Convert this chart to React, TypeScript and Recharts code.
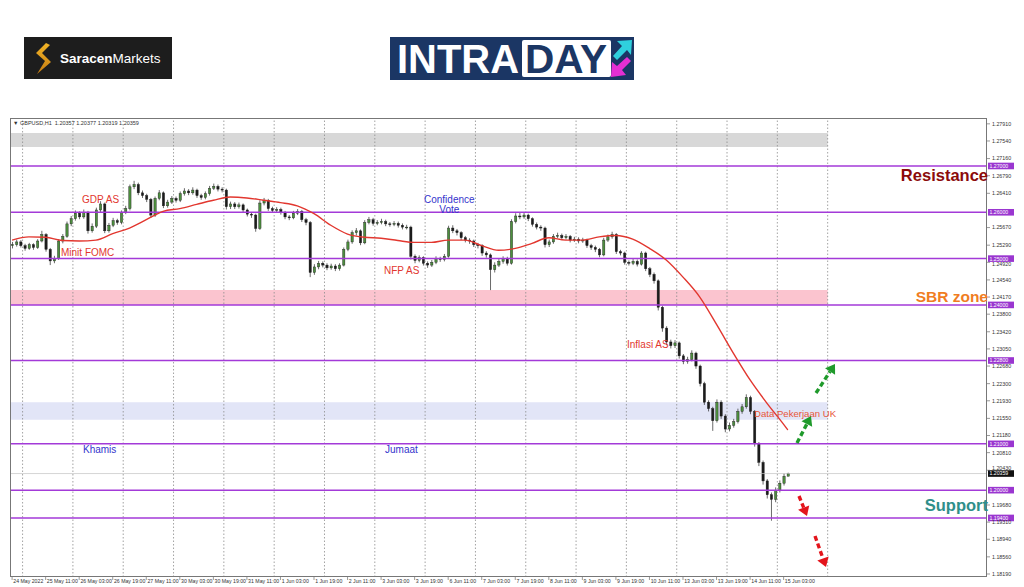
import React from 'react';
import { ComposedChart, Bar, Line, XAxis, YAxis, ReferenceLine, ReferenceArea } from 'recharts';

// GBPUSD, 2-hour candles from 24 May 19:00. Prices in pips above 1.20000.
// open of each candle = close of the previous one
const firstOpen = 528;
const closes = [
  530, 536, 528, 522, 530, 524, 538, 552, 520, 495, 500, 538,
  548, 575, 586, 598, 590, 600, 560, 570, 605, 618, 560, 572,
  582, 578, 600, 608, 655, 660, 642, 636, 628, 594, 630, 642,
  614, 622, 630, 626, 640, 646, 642, 648, 636, 632, 640, 652,
  656, 650, 648, 612, 618, 612, 616, 605, 596, 594, 565, 620,
  626, 608, 604, 606, 600, 590, 588, 598, 602, 584, 578, 470,
  482, 490, 486, 480, 484, 478, 486, 520, 536, 556, 560, 534,
  578, 584, 576, 578, 580, 575, 574, 576, 572, 568, 568, 505,
  496, 502, 490, 486, 492, 500, 498, 505, 566, 560, 556, 545,
  540, 538, 530, 528, 512, 508, 476, 486, 494, 500, 490, 580,
  592, 590, 594, 586, 574, 568, 566, 530, 536, 548, 550, 545,
  548, 540, 542, 538, 540, 528, 524, 520, 508, 540, 547, 552,
  515, 512, 492, 490, 494, 488, 512, 478, 466, 452, 395, 350,
  320, 312, 318, 290, 278, 282, 296, 268, 230, 190, 176, 150,
  190, 160, 132, 140, 148, 170, 180, 200, 170, 100, 60, 20,
  -10, -20, 0, 15, 30, 35.9,
];
const highs = [
  536, 541, 540, 532, 534, 533, 542, 560, 555, 523, 506, 542,
  553, 580, 592, 604, 602, 606, 603, 576, 610, 624, 621, 577,
  588, 586, 604, 614, 660, 668, 664, 647, 640, 631, 634, 648,
  645, 627, 635, 634, 645, 652, 650, 654, 651, 640, 645, 657,
  662, 660, 654, 651, 623, 622, 621, 619, 608, 600, 597, 626,
  631, 629, 612, 611, 610, 603, 594, 603, 607, 605, 588, 581,
  488, 495, 494, 490, 489, 488, 490, 524, 541, 561, 566, 563,
  583, 590, 588, 583, 586, 584, 579, 581, 580, 576, 573, 571,
  509, 507, 505, 494, 497, 505, 504, 510, 571, 572, 564, 559,
  549, 544, 541, 534, 531, 516, 511, 492, 499, 505, 504, 585,
  598, 600, 599, 597, 589, 578, 572, 569, 541, 553, 556, 554,
  553, 551, 547, 546, 545, 543, 532, 528, 523, 545, 552, 558,
  555, 519, 515, 496, 499, 498, 516, 515, 482, 470, 455, 398,
  354, 325, 324, 321, 294, 288, 302, 299, 271, 234, 194, 180,
  196, 194, 164, 146, 154, 176, 186, 207, 204, 173, 104, 64,
  24, -5, 6, 21, 36, 37.7,
];
const lows = [
  522, 526, 524, 517, 519, 519, 521, 535, 515, 486, 490, 497,
  533, 545, 570, 582, 585, 586, 554, 556, 566, 600, 555, 556,
  568, 573, 574, 596, 604, 650, 637, 631, 622, 588, 590, 626,
  609, 610, 618, 621, 622, 636, 637, 638, 631, 627, 628, 636,
  648, 645, 643, 606, 607, 607, 608, 600, 591, 588, 558, 562,
  615, 603, 599, 600, 595, 585, 583, 585, 594, 579, 572, 460,
  465, 477, 481, 475, 476, 473, 474, 483, 516, 532, 550, 529,
  531, 574, 571, 572, 574, 570, 569, 570, 567, 563, 563, 498,
  490, 492, 485, 480, 482, 488, 493, 494, 502, 555, 550, 540,
  535, 532, 525, 522, 506, 502, 432, 470, 482, 489, 485, 487,
  576, 585, 586, 581, 569, 563, 560, 524, 525, 532, 544, 540,
  541, 535, 536, 533, 534, 523, 519, 514, 503, 505, 536, 543,
  510, 507, 487, 485, 486, 483, 485, 473, 460, 446, 388, 342,
  313, 306, 307, 284, 272, 273, 278, 262, 224, 184, 170, 128,
  146, 154, 125, 127, 135, 144, 165, 176, 164, 94, 52, 12,
  -18, -66, -26, -5, 10, 31.9,
];

// red moving average, [slot, pips]
const maPoints: [number, number][] = [
  [0, 540], [4, 547], [8, 546], [12, 539], [16, 538], [20, 540], [24, 554], [28, 566],
  [32, 584], [36, 602], [40, 608], [44, 617], [48, 626], [52, 633], [56, 631], [60, 626],
  [64, 621], [68, 614], [72, 597], [76, 572], [80, 553], [84, 546], [88, 544], [92, 539],
  [96, 535], [100, 535], [104, 540], [108, 540], [112, 528], [116, 518], [120, 522], [124, 533],
  [128, 545], [132, 540], [136, 540], [140, 547], [144, 550], [148, 542], [152, 522], [156, 497],
  [160, 460], [164, 417], [168, 358], [172, 296], [176, 238], [180, 188], [184, 142], [185, 130],
];

const timeLabels = [
  '24 May 2022', '25 May 11:00', '26 May 03:00', '26 May 19:00', '27 May 11:00', '30 May 03:00',
  '30 May 19:00', '31 May 11:00', '1 Jun 03:00', '1 Jun 19:00', '2 Jun 11:00', '3 Jun 03:00',
  '3 Jun 19:00', '6 Jun 11:00', '7 Jun 03:00', '7 Jun 19:00', '8 Jun 11:00', '9 Jun 03:00',
  '9 Jun 19:00', '10 Jun 11:00', '13 Jun 03:00', '13 Jun 19:00', '14 Jun 11:00', '15 Jun 03:00',
];
const priceTicks = [
  1.2791, 1.2754, 1.2716, 1.2679, 1.2641, 1.2567, 1.2529, 1.2492, 1.2454, 1.2417,
  1.238, 1.2342, 1.2305, 1.2268, 1.223, 1.2193, 1.2155, 1.2118, 1.2081, 1.2043,
  1.1968, 1.1931, 1.1894, 1.1856, 1.1819,
];
const levels = [1.27, 1.26, 1.25, 1.24, 1.228, 1.21, 1.2, 1.194];
const lastPrice = 1.20359;
const greyZone = [1.2741, 1.2771];
const sbrZone = [1.24, 1.2432];
const blueZone = [1.2152, 1.219];

// small nudges so tick labels sitting against a price tag stay readable
const tickNudge: Record<string, number> = { '1.24920': 1.8, '1.20430': -2.6 };

const SLOTS = 233;
const yMin = 1.18125;
const yMax = 1.28036;
const px = (p: number) => 1.2 + p / 10000;

const maMap = new Map(maPoints);
const rows = Array.from({ length: SLOTS }, (_, i) => {
  if (i >= closes.length) return { i, range: null, ma: null };
  const o = i === 0 ? firstOpen : closes[i - 1];
  return {
    i,
    o: px(o),
    c: px(closes[i]),
    h: px(highs[i]),
    l: px(lows[i]),
    range: [px(lows[i]), px(highs[i])],
    ma: maMap.has(i) ? px(maMap.get(i) as number) : null,
  };
});

const FONT = '"Liberation Sans", Arial, sans-serif';

function Candle(props: any) {
  const { x, y, width, height, payload } = props;
  if (!payload || payload.range == null) return null;
  const { o, c, h, l } = payload;
  const top = Math.min(y, y + height);
  const span = Math.abs(height);
  const py = (v: number) => top + ((h - v) / (h - l)) * span;
  const cx = x + width / 2;
  const bt = py(Math.max(o, c));
  const bb = py(Math.min(o, c));
  return (
    <g>
      <line x1={cx} x2={cx} y1={top} y2={top + span} stroke="#2a2a2a" strokeWidth={0.7} />
      <rect
        x={cx - 1.15}
        y={bt}
        width={2.3}
        height={Math.max(bb - bt, 0.8)}
        fill={c >= o ? '#4d8f3e' : '#1c1c1c'}
        stroke="#1c1c1c"
        strokeWidth={0.4}
      />
    </g>
  );
}

const TimeTick = ({ x, y, payload }: any) => (
  <g>
    <line x1={x} x2={x} y1={y - 2} y2={y + 1} stroke="#555" strokeWidth={0.6} />
    <text x={x + 1.2} y={y + 4} fontSize={5.2} fill="#333" fontFamily={FONT}>
      {timeLabels[payload.value / 8]}
    </text>
  </g>
);

const PriceTick = ({ x, y, payload }: any) => {
  const label = payload.value.toFixed(5);
  return (
    <text x={x} y={y + 1.9 + (tickNudge[label] || 0)} fontSize={5.3} fill="#333" fontFamily={FONT}>
      {label}
    </text>
  );
};

const LevelTag = ({ viewBox, text, bg }: any) => {
  if (!viewBox) return null;
  const { x, y, width } = viewBox;
  return (
    <g>
      <rect x={x + width + 1} y={y - 3.3} width={26} height={6.6} fill={bg} />
      <text x={x + width + 2.5} y={y + 1.9} fontSize={5.2} fill="#fff" fontFamily={FONT}>
        {text}
      </text>
    </g>
  );
};

function Arrow({ x1, y1, x2, y2, color }: { x1: number; y1: number; x2: number; y2: number; color: string }) {
  const a = Math.atan2(y2 - y1, x2 - x1);
  const hl = 9;
  const hw = 6;
  const bx = x2 - hl * Math.cos(a);
  const by = y2 - hl * Math.sin(a);
  const nx = -Math.sin(a) * hw;
  const ny = Math.cos(a) * hw;
  return (
    <g>
      <line x1={x1} y1={y1} x2={bx} y2={by} stroke={color} strokeWidth={3.4} strokeDasharray="5 3" />
      <polygon points={`${x2},${y2} ${bx + nx},${by + ny} ${bx - nx},${by - ny}`} fill={color} />
    </g>
  );
}

function Logos() {
  return (
    <svg width={1024} height={100} style={{ position: 'absolute', left: 0, top: 0 }}>
      <defs>
        <linearGradient id="gold" x1="0" y1="0" x2="0" y2="1">
          <stop offset="0%" stopColor="#f3b527" />
          <stop offset="100%" stopColor="#c57c12" />
        </linearGradient>
      </defs>
      <rect x={24} y={37} width={148} height={42} fill="#1d1d1d" />
      <path d="M46,43 L36,53 L45,61 L37,74 L51,62 L42,53 L50,45 Z" fill="url(#gold)" />
      <text x={60} y={63} fontSize={13.5} fill="#fff" fontFamily={FONT}>
        <tspan fontWeight="bold">Saracen</tspan>
        <tspan>Markets</tspan>
      </text>
      <rect x={390} y={37} width={244} height={43} fill="#1b3664" />
      <text x={397} y={73} fontSize={40} fontWeight="bold" fill="#fff" fontFamily={FONT} textLength={122} lengthAdjust="spacingAndGlyphs">
        INTRA
      </text>
      <rect x={522} y={40} width={89} height={37} rx={2} fill="#fff" />
      <text x={525} y={73} fontSize={40} fontWeight="bold" fill="#1b3664" fontFamily={FONT} textLength={82} lengthAdjust="spacingAndGlyphs">
        DAY
      </text>
      <polygon points="617,41 632,40 631,55 627,50 617,60 613,56 622,46" fill="#2fd0dd" />
      <polygon points="627,57 631,61 622,70 626,75 611,77 612,62 617,66" fill="#e42fd3" />
    </svg>
  );
}

const note = (left: number, top: number, color: string, size = 10): React.CSSProperties => ({
  position: 'absolute',
  left,
  top,
  color,
  fontSize: size,
  lineHeight: '11px',
  whiteSpace: 'nowrap',
  fontFamily: FONT,
});

export default function App() {
  return (
    <div style={{ position: 'absolute', left: 0, top: 0, width: 1024, height: 587, background: '#fff', overflow: 'hidden' }}>
      <Logos />
      <div style={{ position: 'absolute', left: 0, top: 0 }}>
        <ComposedChart width={1024} height={587} data={rows} margin={{ top: 118, right: 0, bottom: 0, left: 10 }}>
          <XAxis
            dataKey="i"
            type="category"
            ticks={timeLabels.map((_, k) => k * 8)}
            interval={0}
            tick={<TimeTick />}
            tickLine={false}
            axisLine={false}
            tickSize={2}
            tickMargin={0}
            height={10}
          />
          <YAxis
            orientation="right"
            type="number"
            domain={[yMin, yMax]}
            allowDataOverflow
            ticks={priceTicks}
            interval={0}
            tick={<PriceTick />}
            tickSize={3}
            tickMargin={2}
            tickLine={{ stroke: '#555', strokeWidth: 0.6 }}
            axisLine={false}
            width={37}
          />
          <ReferenceArea x1={0} x2={194} y1={greyZone[0]} y2={greyZone[1]} fill="#d8d8d8" fillOpacity={1} stroke="none" />
          <ReferenceArea x1={0} x2={194} y1={sbrZone[0]} y2={sbrZone[1]} fill="#fbc4cf" fillOpacity={1} stroke="none" />
          <ReferenceArea x1={0} x2={194} y1={blueZone[0]} y2={blueZone[1]} fill="#e2e5f7" fillOpacity={1} stroke="none" />
          {Array.from({ length: 17 }, (_, k) => (
            <ReferenceLine
              key={k}
              x={2 + 12 * k}
              position="end"
              stroke="#8c8c8c"
              strokeWidth={0.8}
              strokeDasharray="1.5 2"
            />
          ))}
          <ReferenceLine
            y={lastPrice}
            stroke="#c4c4c4"
            strokeWidth={0.7}
            label={<LevelTag text={lastPrice.toFixed(5)} bg="#111" />}
          />
          {levels.map((v) => (
            <ReferenceLine
              key={v}
              y={v}
              stroke="#a33ad8"
              strokeWidth={1.5}
              label={<LevelTag text={v.toFixed(5)} bg="#9a36d0" />}
            />
          ))}
          <Bar dataKey="range" barSize={3} isAnimationActive={false} shape={(p: any) => <Candle {...p} />} />
          <Line
            dataKey="ma"
            type="monotone"
            stroke="#e2372f"
            strokeWidth={1.4}
            dot={false}
            connectNulls
            isAnimationActive={false}
          />
        </ComposedChart>
      </div>
      <div
        style={{
          position: 'absolute',
          left: 10,
          top: 118,
          width: 977,
          height: 459,
          border: '1px solid #777',
          boxSizing: 'border-box',
          pointerEvents: 'none',
        }}
      />
      <div style={{ ...note(13, 119, '#333', 5.5), lineHeight: '8px' }}>▼ GBPUSD,H1&nbsp;&nbsp;1.20357 1.20377 1.20319 1.20359</div>
      <div style={note(82, 194, '#e2372f')}>GDP AS</div>
      <div style={note(61, 247, '#e2372f')}>Minit FOMC</div>
      <div style={note(384, 265, '#e2372f')}>NFP AS</div>
      <div style={{ ...note(424, 195, '#3434cc'), textAlign: 'center', lineHeight: '9.5px' }}>
        Confidence
        <br />
        Vote
      </div>
      <div style={note(627, 339, '#e2372f')}>Inflasi AS</div>
      <div style={note(754, 408, '#e8553a', 9.6)}>Data Pekerjaan UK</div>
      <div style={note(83, 444, '#3434cc')}>Khamis</div>
      <div style={note(385, 444, '#3434cc')}>Jumaat</div>
      <div style={{ ...note(0, 166, '#8b0b0b', 16.5), left: 'auto', right: 36, fontWeight: 'bold', lineHeight: '18px' }}>Resistance</div>
      <div style={{ ...note(0, 288, '#f07d22', 15.5), left: 'auto', right: 36, fontWeight: 'bold', lineHeight: '18px' }}>SBR zone</div>
      <div style={{ ...note(0, 496, '#2f8f8a', 16.5), left: 'auto', right: 36, fontWeight: 'bold', lineHeight: '18px' }}>Support</div>
      <svg width={1024} height={587} style={{ position: 'absolute', left: 0, top: 0, pointerEvents: 'none' }}>
        <Arrow x1={797} y1={443} x2={811} y2={416} color="#1f9a2b" />
        <Arrow x1={816} y1={393} x2={835} y2={364} color="#1f9a2b" />
        <Arrow x1={799} y1={496} x2={807} y2={516} color="#e3141b" />
        <Arrow x1={815} y1={536} x2={826} y2={567} color="#e3141b" />
      </svg>
    </div>
  );
}
